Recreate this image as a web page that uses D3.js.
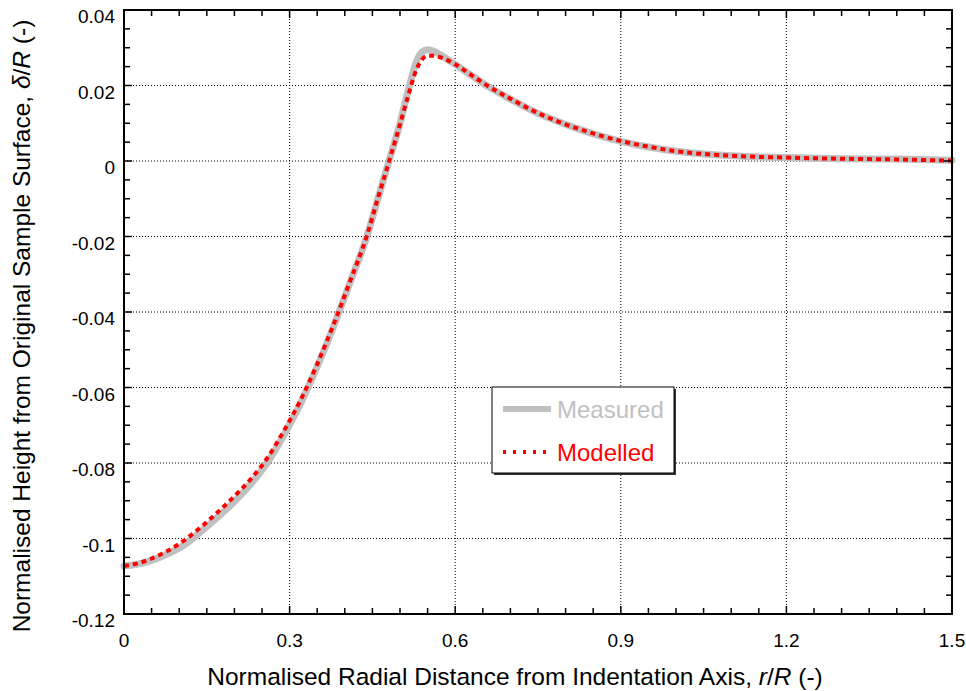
<!DOCTYPE html>
<html>
<head>
<meta charset="utf-8">
<script src="https://cdn.jsdelivr.net/npm/d3@7"></script>
<style>
  body { margin: 0; background: #fff; }
  svg text { font-family: "Liberation Sans", Arial, sans-serif; }
</style>
</head>
<body>
<div id="chart"></div>
<script>
// data
var rr = [0, 0.025, 0.05, 0.08, 0.11, 0.14, 0.17, 0.2, 0.23, 0.26, 0.29, 0.32, 0.35, 0.38,
  0.41, 0.44, 0.46, 0.48, 0.5, 0.515, 0.53, 0.54, 0.55, 0.56, 0.58, 0.6, 0.63, 0.66, 0.7,
  0.75, 0.8, 0.85, 0.9, 0.95, 1.0, 1.1, 1.2, 1.3, 1.4, 1.5]
var measured = [-0.1073, -0.1068, -0.1058, -0.1040, -0.1016, -0.0981, -0.0943, -0.0902,
  -0.0855, -0.0798, -0.0725, -0.0642, -0.0545, -0.0437, -0.0320, -0.0200, -0.0100, 0.0000,
  0.0100, 0.0188, 0.0264, 0.0289, 0.0295, 0.0291, 0.0275, 0.0256, 0.0226, 0.0197, 0.0164,
  0.0126, 0.0097, 0.0072, 0.0052, 0.0037, 0.0026, 0.0014, 0.0009, 0.0006, 0.0005, 0.0002]
var modelled = [-0.1073, -0.1066, -0.1053, -0.1032, -0.1004, -0.0969, -0.0930, -0.0888,
  -0.0842, -0.0786, -0.0714, -0.0633, -0.0538, -0.0432, -0.0317, -0.0198, -0.0098, -0.0002,
  0.0097, 0.0174, 0.0243, 0.0269, 0.0279, 0.0279, 0.0271, 0.0256, 0.0227, 0.0198, 0.0165,
  0.0127, 0.0097, 0.0073, 0.0053, 0.0038, 0.0026, 0.0014, 0.0009, 0.0006, 0.0004, 0.0001]

var xTicks = [0, 0.3, 0.6, 0.9, 1.2, 1.5]
var xTickLabels = ['0', '0.3', '0.6', '0.9', '1.2', '1.5']
var yTicks = [0.04, 0.02, 0, -0.02, -0.04, -0.06, -0.08, -0.1, -0.12]
var yTickLabels = ['0.04', '0.02', '0', '-0.02', '-0.04', '-0.06', '-0.08', '-0.1', '-0.12']
var seriesNames = ['Measured', 'Modelled']

var width = 966
var height = 691
var margin = { top: 10, right: 14, bottom: 77, left: 124 }
var plotW = width - margin.left - margin.right
var plotH = height - margin.top - margin.bottom

var x = d3.scaleLinear().domain([0, 1.5]).range([0, plotW])
var y = d3.scaleLinear().domain([-0.12, 0.04]).range([plotH, 0])

var svg = d3.select('#chart').append('svg')
  .attr('width', width)
  .attr('height', height)

var g = svg.append('g')
  .attr('transform', 'translate(' + margin.left + ',' + margin.top + ')')

// dotted grid
g.selectAll('.gx').data(xTicks.slice(1, -1)).enter().append('line')
  .attr('x1', d => x(d)).attr('x2', d => x(d))
  .attr('y1', 0).attr('y2', plotH)
  .attr('stroke', '#000').attr('stroke-width', 1)
  .attr('stroke-dasharray', '1,2')
g.selectAll('.gy').data(yTicks.slice(1, -1)).enter().append('line')
  .attr('y1', d => y(d)).attr('y2', d => y(d))
  .attr('x1', 0).attr('x2', plotW)
  .attr('stroke', '#000').attr('stroke-width', 1)
  .attr('stroke-dasharray', '1,2')

var line = d3.line()
  .x((d, i) => x(rr[i]))
  .y(d => y(d))
  .curve(d3.curveMonotoneX)

g.append('path')
  .datum(measured)
  .attr('d', line)
  .attr('fill', 'none')
  .attr('stroke', '#c0c0c0')
  .attr('stroke-width', 7)
  .attr('stroke-linejoin', 'round')
  .attr('stroke-linecap', 'round')

g.append('path')
  .datum(modelled)
  .attr('d', line)
  .attr('fill', 'none')
  .attr('stroke', '#ff0000')
  .attr('stroke-width', 4)
  .attr('stroke-dasharray', '5,4')

// legend
var lg = svg.append('g').attr('transform', 'translate(492,387)')
lg.append('rect')
  .attr('x', 2).attr('y', 2)
  .attr('width', 182).attr('height', 86)
  .attr('fill', '#333')
lg.append('rect')
  .attr('width', 182).attr('height', 86)
  .attr('fill', '#fff')
  .attr('stroke', '#000').attr('stroke-width', 1)
lg.append('line')
  .attr('x1', 11).attr('x2', 59).attr('y1', 22).attr('y2', 22)
  .attr('stroke', '#c0c0c0').attr('stroke-width', 6)
lg.append('line')
  .attr('x1', 11).attr('x2', 59).attr('y1', 65).attr('y2', 65)
  .attr('stroke', '#ff0000').attr('stroke-width', 4)
  .attr('stroke-dasharray', '3,7')
lg.append('text')
  .attr('x', 65).attr('y', 31)
  .attr('font-size', 24).attr('fill', '#c0c0c0')
  .text(seriesNames[0])
lg.append('text')
  .attr('x', 65).attr('y', 74)
  .attr('font-size', 24).attr('fill', '#ff0000')
  .text(seriesNames[1])

// frame and inward ticks on all four sides
g.append('rect')
  .attr('width', plotW).attr('height', plotH)
  .attr('fill', 'none').attr('stroke', '#000').attr('stroke-width', 2)

var xMinor = d3.range(0, 31).map(i => i * 0.05)
var yMinor = d3.range(0, 33).map(i => -0.12 + i * 0.005)
var isMajor = function (v, step) { return Math.abs(v / step - Math.round(v / step)) < 1e-6 }

xMinor.forEach(function (v) {
  var len = isMajor(v, 0.3) ? 8 : 6
  g.append('line').attr('x1', x(v)).attr('x2', x(v)).attr('y1', plotH).attr('y2', plotH - len)
    .attr('stroke', '#000').attr('stroke-width', 1.5)
  g.append('line').attr('x1', x(v)).attr('x2', x(v)).attr('y1', 0).attr('y2', len)
    .attr('stroke', '#000').attr('stroke-width', 1.5)
})
yMinor.forEach(function (v) {
  var len = isMajor(v, 0.02) ? 8 : 6
  g.append('line').attr('y1', y(v)).attr('y2', y(v)).attr('x1', 0).attr('x2', len)
    .attr('stroke', '#000').attr('stroke-width', 1.5)
  g.append('line').attr('y1', y(v)).attr('y2', y(v)).attr('x1', plotW).attr('x2', plotW - len)
    .attr('stroke', '#000').attr('stroke-width', 1.5)
})

// tick labels
g.selectAll('.xl').data(xTicks).enter().append('text')
  .attr('x', d => x(d))
  .attr('y', plotH + 33)
  .attr('text-anchor', 'middle')
  .attr('font-size', 19)
  .text((d, i) => xTickLabels[i])
g.selectAll('.yl').data(yTicks).enter().append('text')
  .attr('x', -9)
  .attr('y', d => y(d) + 13)
  .attr('text-anchor', 'end')
  .attr('font-size', 19)
  .text((d, i) => yTickLabels[i])

// axis titles
var xt = svg.append('text')
  .attr('x', 515).attr('y', 685)
  .attr('text-anchor', 'middle')
  .attr('font-size', 24.5)
xt.append('tspan').text('Normalised Radial Distance from Indentation Axis, ')
xt.append('tspan').attr('font-style', 'italic').text('r')
xt.append('tspan').text('/')
xt.append('tspan').attr('font-style', 'italic').text('R')
xt.append('tspan').text(' (-)')

var yt = svg.append('text')
  .attr('transform', 'translate(30,326) rotate(-90)')
  .attr('text-anchor', 'middle')
  .attr('font-size', 24.5)
yt.append('tspan').text('Normalised Height from Original Sample Surface, ')
yt.append('tspan').attr('font-style', 'italic').text('\u03b4')
yt.append('tspan').text('/')
yt.append('tspan').attr('font-style', 'italic').text('R')
yt.append('tspan').text(' (-)')
</script>
</body>
</html>
